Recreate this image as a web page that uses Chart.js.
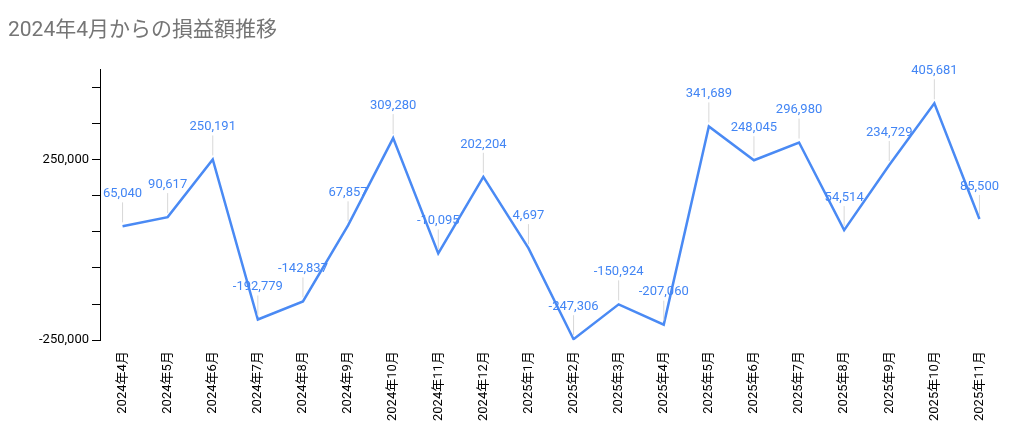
<!DOCTYPE html>
<html>
<head>
<meta charset="utf-8">
<script src="https://cdn.jsdelivr.net/npm/chart.js@4"></script>
<style>
  body { margin: 0; background: #fff; }
  #wrap { width: 1024px; height: 444px; }
</style>
</head>
<body>
<div id="wrap"><canvas id="myChart"></canvas></div>
<script>
const months = ['2024年4月', '2024年5月', '2024年6月', '2024年7月', '2024年8月', '2024年9月', '2024年10月', '2024年11月', '2024年12月', '2025年1月',
  '2025年2月', '2025年3月', '2025年4月', '2025年5月', '2025年6月', '2025年7月', '2025年8月', '2025年9月', '2025年10月', '2025年11月'];
const profit = [65040, 90617, 250191, -192779, -142837, 67857, 309280, -10095, 202204, 4697,
  -247306, -150924, -207060, 341689, 248045, 296980, 54514, 234729, 405681, 85500];
const majorTicks = [500000, 250000, 0, -250000];

// value labels with a short gray leader above each point
const pointLabels = {
  id: 'pointLabels',
  afterDatasetsDraw(chart) {
    const ctx = chart.ctx;
    const meta = chart.getDatasetMeta(0);
    ctx.save();
    ctx.font = '13px Roboto';
    ctx.textAlign = 'center';
    ctx.textBaseline = 'bottom';
    meta.data.forEach(function(pt, i) {
      ctx.strokeStyle = '#d8d8d8';
      ctx.lineWidth = 1;
      ctx.beginPath();
      ctx.moveTo(pt.x, pt.y - 4);
      ctx.lineTo(pt.x, pt.y - 24);
      ctx.stroke();
      ctx.fillStyle = '#4285F4';
      ctx.fillText(profit[i].toLocaleString('en-US'), pt.x, pt.y - 26);
    });
    ctx.restore();
  }
};

new Chart(document.getElementById('myChart'), {
  type: 'line',
  data: {
    labels: months,
    datasets: [{
      data: profit,
      borderColor: '#4a8af4',
      borderWidth: 2.5,
      pointRadius: 0,
      tension: 0,
    }]
  },
  options: {
    responsive: true,
    maintainAspectRatio: false,
    animation: false,
    layout: {padding: {left: 8, right: 22, top: 0, bottom: 20}},
    plugins: {
      legend: {display: false},
      tooltip: {enabled: false},
      title: {
        display: true,
        text: '2024年4月からの損益額推移',
        align: 'start',
        color: '#757575',
        font: {family: 'Roboto, "Noto Sans CJK JP"', size: 21, weight: 'normal'},
        padding: {top: 18, bottom: 26},
      },
    },
    scales: {
      x: {
        offset: true,
        grid: {display: false},
        border: {display: false},
        ticks: {
          color: '#000',
          font: {family: 'Roboto, "Noto Sans CJK JP"', size: 13},
          minRotation: 90,
          maxRotation: 90,
          autoSkip: false,
        },
      },
      y: {
        min: -250000,
        max: 500000,
        afterFit: function(scale) { scale.width = 92; },
        border: {display: true, color: '#000'},
        grid: {
          drawOnChartArea: false,
          color: '#000',
          tickLength: 8,
        },
        ticks: {
          stepSize: 50000,
          color: '#000',
          font: {family: 'Roboto', size: 13},
          callback: function(v) {
            return majorTicks.includes(v) ? v.toLocaleString('en-US') : '';
          },
        },
      },
    },
  },
  plugins: [pointLabels],
});
</script>
</body>
</html>
